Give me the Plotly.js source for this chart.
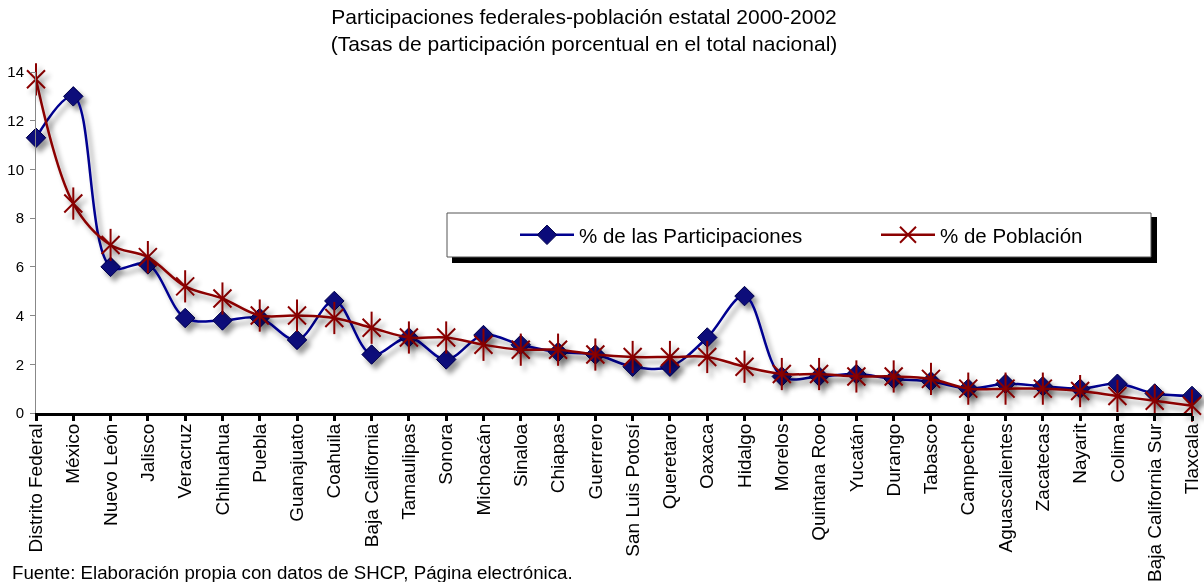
<!DOCTYPE html>
<html>
<head>
<meta charset="utf-8">
<script src="https://cdn.plot.ly/plotly-3.0.1.min.js"></script>
<style>
  html, body { margin: 0; padding: 0; background: #fff; }
  #chart { width: 1204px; height: 582px; }
  .js-plotly-plot .scatterlayer .trace { filter: url(#dropshadow); }
</style>
</head>
<body>
<svg width="0" height="0" style="position:absolute">
  <defs>
    <filter id="dropshadow" x="-10%" y="-10%" width="130%" height="140%">
      <feDropShadow dx="4" dy="5" stdDeviation="2.5" flood-color="#000" flood-opacity="0.4"/>
    </filter>
  </defs>
</svg>
<div id="chart"></div>
<script>
const states = ["Distrito Federal","México","Nuevo León","Jalisco","Veracruz","Chihuahua","Puebla","Guanajuato","Coahuila","Baja California","Tamaulipas","Sonora","Michoacán","Sinaloa","Chiapas","Guerrero","San Luis Potosí","Queretaro","Oaxaca","Hidalgo","Morelos","Quintana Roo","Yucatán","Durango","Tabasco","Campeche","Aguascalientes","Zacatecas","Nayarit","Colima","Baja California Sur","Tlaxcala"];

const participaciones = [11.3, 13.0, 6.0, 6.1, 3.9, 3.8, 3.9, 3.0, 4.6, 2.4, 3.1, 2.2, 3.2, 2.8, 2.5, 2.4, 1.9, 1.9, 3.1, 4.8, 1.5, 1.5, 1.6, 1.4, 1.3, 1.0, 1.2, 1.1, 1.0, 1.2, 0.8, 0.7];

const poblacion = [13.7, 8.6, 6.9, 6.4, 5.2, 4.7, 4.0, 4.0, 3.9, 3.5, 3.1, 3.1, 2.8, 2.6, 2.6, 2.4, 2.3, 2.3, 2.3, 1.9, 1.6, 1.6, 1.5, 1.5, 1.4, 1.0, 1.0, 1.0, 0.9, 0.7, 0.5, 0.3];

const yTicks = [0, 2, 4, 6, 8, 10, 12, 14];

const seriesNames = ["% de las Participaciones", "% de Población"];
const titleText = "Participaciones federales-población estatal 2000-2002<br>(Tasas de participación porcentual en el total nacional)";
const sourceText = "Fuente: Elaboración propia con datos de SHCP, Página electrónica.";

const FONT = "Liberation Sans, Arial, sans-serif";
const BLUE = "#000090";
const RED = "#8B0000";

// plot area in px
const L = 36, R = 12, T = 72, B = 169, W = 1204, H = 582;
const pw = W - L - R, ph = H - T - B;
const px = x => (x - L) / pw;
const py = y => (H - B - y) / ph;

const traces = [
  {
    x: states, y: participaciones, name: seriesNames[0], type: "scatter", mode: "lines+markers",
    line: { color: BLUE, width: 2.5, shape: "spline", smoothing: 1 },
    marker: { symbol: "diamond", size: 15, color: "#0b0b7a", line: { color: "#00004a", width: 1 } },
    cliponaxis: false
  },
  {
    x: states, y: poblacion, name: seriesNames[1], type: "scatter", mode: "lines+markers",
    line: { color: RED, width: 2.5, shape: "spline", smoothing: 1 },
    marker: { symbol: "x-thin-open", size: 18, color: RED, line: { color: RED, width: 2 } },
    cliponaxis: false
  },
  {
    x: states, y: poblacion, name: seriesNames[1], type: "scatter", mode: "markers", showlegend: false,
    marker: { symbol: "line-ns-open", size: 23, color: RED, line: { color: RED, width: 2 } },
    cliponaxis: false, hoverinfo: "skip"
  }
];

const layout = {
  width: W, height: H,
  margin: { l: L, r: R, t: T, b: B, autoexpand: false },
  paper_bgcolor: "#ffffff", plot_bgcolor: "#ffffff",
  font: { family: FONT, color: "#000" },
  title: {
    text: titleText, font: { family: FONT, size: 21, color: "#000" },
    x: 584 / W, xref: "container", xanchor: "center",
    y: 1 - 24 / H, yref: "container", yanchor: "top"
  },
  showlegend: true,
  legend: {
    orientation: "h", x: px(515), xanchor: "left", y: py(235), yanchor: "middle",
    bgcolor: "rgba(0,0,0,0)", borderwidth: 0,
    font: { family: FONT, size: 20.5, color: "#000" },
    entrywidth: 292, entrywidthmode: "pixels", itemwidth: 54
  },
  xaxis: {
    type: "category", range: [0, states.length - 1],
    showgrid: false, zeroline: false,
    showline: true, linecolor: "#000", linewidth: 3,
    ticks: "outside", ticklen: 5, tickwidth: 3, tickcolor: "#000",
    tickangle: -90, tickfont: { family: FONT, size: 19, color: "#000" },
    ticklabelstandoff: -5,
    automargin: false, fixedrange: true
  },
  yaxis: {
    range: [0, 14], tickvals: yTicks, ticktext: yTicks.map(String),
    showgrid: false, zeroline: false,
    showline: true, linecolor: "#888", linewidth: 1,
    ticks: "outside", ticklen: 5, tickwidth: 1, tickcolor: "#888",
    tickfont: { family: FONT, size: 15, color: "#000" },
    ticklabelstandoff: 3,
    automargin: false, fixedrange: true
  },
  shapes: [
    { type: "rect", xref: "paper", yref: "paper", x0: px(452), x1: px(1157), y0: py(217), y1: py(263),
      fillcolor: "#000", line: { width: 0 }, layer: "above" },
    { type: "rect", xref: "paper", yref: "paper", x0: px(447), x1: px(1151), y0: py(213), y1: py(257),
      fillcolor: "#fff", line: { color: "#555", width: 1 }, layer: "above" }
  ],
  annotations: [
    { text: sourceText, xref: "paper", yref: "paper", x: px(10), y: py(572), xanchor: "left", yanchor: "middle",
      showarrow: false, font: { family: FONT, size: 18.7, color: "#000" } }
  ]
};

Plotly.newPlot("chart", traces, layout, { displayModeBar: false, staticPlot: true });
</script>
</body>
</html>
